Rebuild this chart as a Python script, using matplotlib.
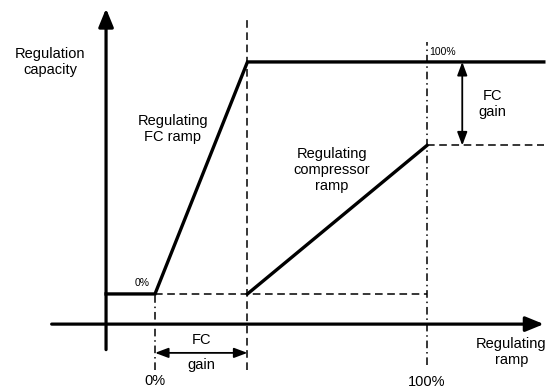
import matplotlib
matplotlib.use("Agg")
import matplotlib.pyplot as plt

# Regulating ramp (x, %) and regulation capacity (y, %)
ramp_start = 0
ramp_end = 100
fc_gain = 34          # where the FC ramp reaches full capacity
cap_low = 0
cap_full = 100
comp_end = 64         # compressor ramp capacity at 100 % regulating ramp
axis_x0 = -18         # position of the capacity axis on the ramp scale
axis_y0 = -13         # position of the ramp axis on the capacity scale
x_max = 143

fc_x = [axis_x0, ramp_start, fc_gain, x_max]
fc_y = [cap_low, cap_low, cap_full, cap_full]
comp_x = [fc_gain, ramp_end]
comp_y = [cap_low, comp_end]

plt.rcParams['font.family'] = ['Liberation Sans', 'DejaVu Sans']

fig = plt.figure(figsize=(5.49, 3.90), dpi=100)
ax = fig.add_axes([0, 0, 1, 1])
ax.set_xlim(-57, 144.9)
ax.set_ylim(-41.4, 126.7)
ax.axis('off')

k = 'black'
big = '-|>,head_length=1.1,head_width=0.45'
small = '<|-|>,head_length=0.8,head_width=0.3'
# axes with arrows
ax.annotate('', xy=(x_max, axis_y0), xytext=(-38, axis_y0),
            arrowprops=dict(arrowstyle=big, lw=2.3, color=k, shrinkA=0, shrinkB=0))
ax.annotate('', xy=(axis_x0, 123), xytext=(axis_x0, -24),
            arrowprops=dict(arrowstyle=big, lw=2.3, color=k, shrinkA=0, shrinkB=0))

# guide lines
ax.plot([ramp_start, ramp_end], [cap_low, cap_low], color=k, lw=1.1, ls=(0, (5, 3)))
ax.plot([ramp_end, x_max], [comp_end, comp_end], color=k, lw=1.1, ls=(0, (5, 3)))
ax.plot([fc_gain, fc_gain], [-32.8, 119], color=k, lw=1.1, ls=(0, (5, 3)))
ax.plot([ramp_start, ramp_start], [-32.8, cap_low], color=k, lw=1.1, ls=(0, (5, 2.5, 1, 2.5)))
ax.plot([ramp_end, ramp_end], [-30.6, 108.6], color=k, lw=1.1, ls=(0, (5, 2.5, 1, 2.5)))

# ramps
ax.plot(fc_x, fc_y, color=k, lw=2.4, solid_joinstyle='miter')
ax.plot(comp_x, comp_y, color=k, lw=2.4)

# FC gain arrows
ax.annotate('', xy=(113, cap_full), xytext=(113, comp_end),
            arrowprops=dict(arrowstyle=small, lw=1.3, color=k, shrinkA=0, shrinkB=0))
ax.annotate('', xy=(ramp_start, -25.4), xytext=(fc_gain, -25.4),
            arrowprops=dict(arrowstyle=small, lw=1.3, color=k, shrinkA=0, shrinkB=0))

fs = 10.5
ax.text(-38.6, 100, 'Regulation\ncapacity', fontsize=fs, ha='center', va='center')
ax.text(6.6, 71, 'Regulating\nFC ramp', fontsize=fs, ha='center', va='center')
ax.text(65, 53.4, 'Regulating\ncompressor\nramp', fontsize=fs, ha='center', va='center')
ax.text(124, 82, 'FC\ngain', fontsize=fs, ha='center', va='center')
ax.text(101, 104.3, '100%', fontsize=7.5, ha='left', va='center')
ax.text(-4.8, 4.7, '0%', fontsize=7.5, ha='center', va='center')
ax.text(17, -19.8, 'FC', fontsize=fs, ha='center', va='center')
ax.text(17, -30.8, 'gain', fontsize=fs, ha='center', va='center')
ax.text(ramp_start, -37.6, '0%', fontsize=fs, ha='center', va='center')
ax.text(ramp_end, -37.9, '100%', fontsize=fs, ha='center', va='center')
ax.text(131, -25, 'Regulating\nramp', fontsize=fs, ha='center', va='center')

fig.savefig('out.png', dpi=100)
